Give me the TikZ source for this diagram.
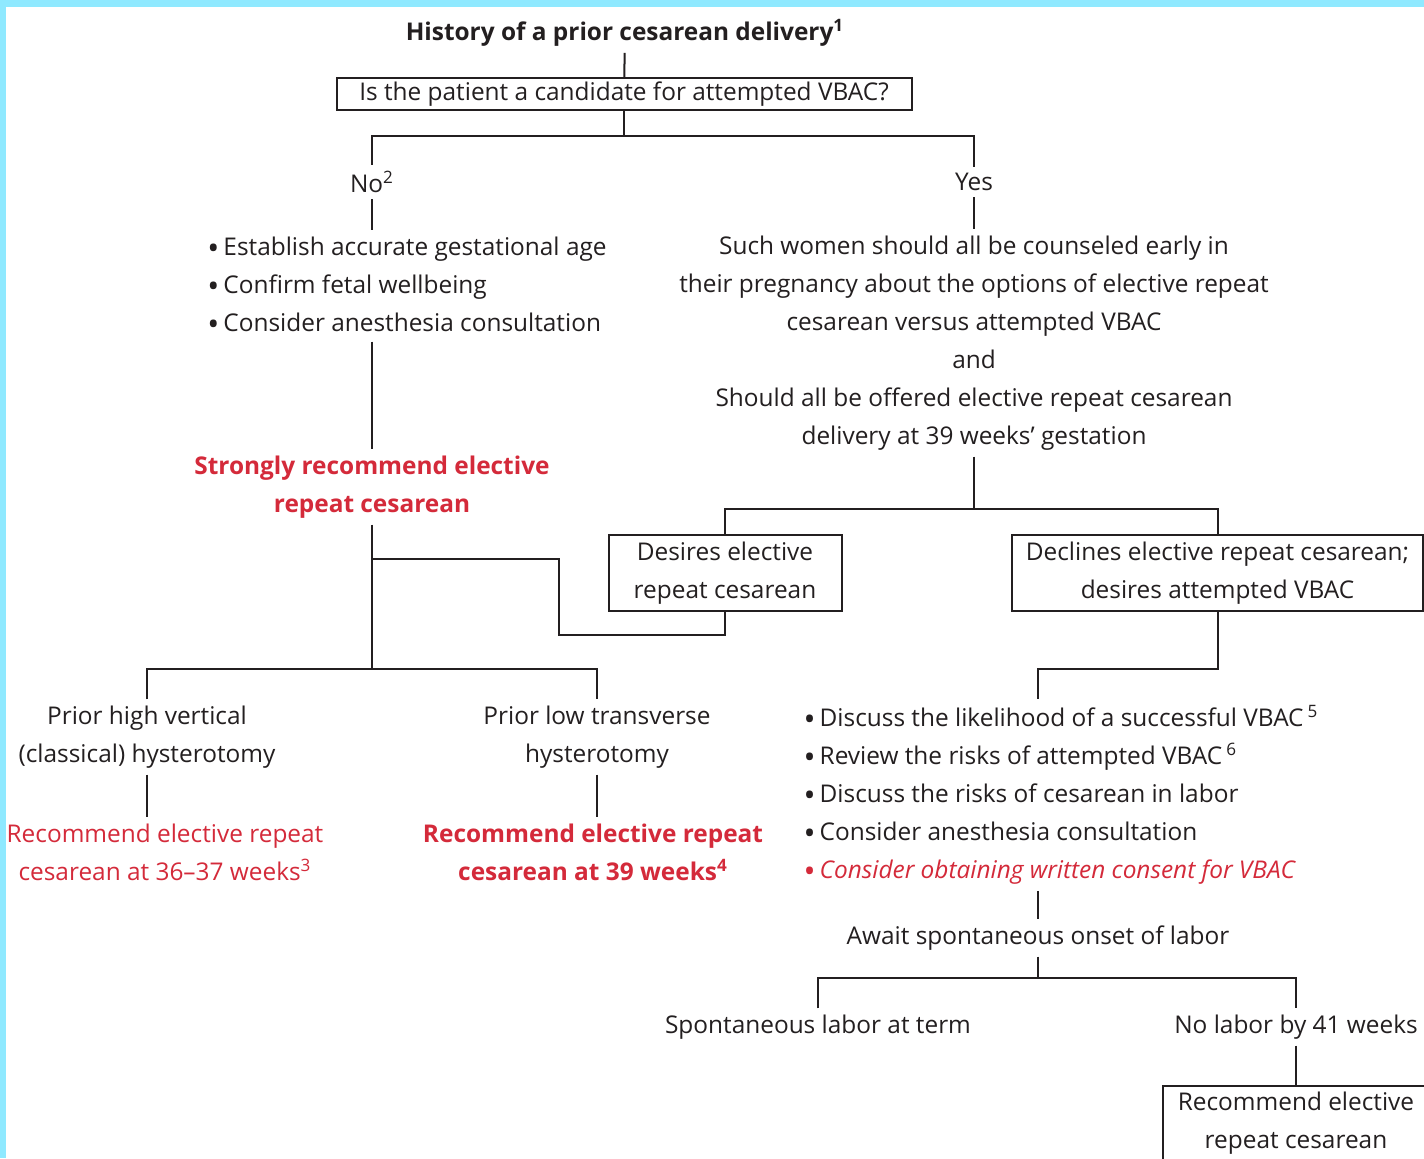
\documentclass[tikz,border=0pt]{standalone}
\usepackage{fontspec}
\setmainfont{Open Sans}
\usepackage{xcolor}
\usepackage{tikz}
\usetikzlibrary{positioning}

\definecolor{ink}{RGB}{35,31,32}
\definecolor{alertred}{RGB}{212,42,58}
\definecolor{band}{RGB}{143,233,255}
\newcommand\dotb{\raisebox{-0.3ex}{\fontsize{16}{19}\selectfont•}\,}

\begin{document}
\begin{tikzpicture}[x=0.5pt, y=-0.5pt,
      every node/.style = {font=\fontsize{12.2}{19}\selectfont, text=ink, inner sep=3pt},
      box/.style = {draw=ink, line width=1pt, inner sep=0pt},
      wire/.style = {draw=ink, line width=1pt},
      alert/.style = {text=alertred},
      strong/.style = {text=alertred, font=\fontsize{12.2}{19}\selectfont\bfseries}
    ]
      \fill[band] (0,0) rectangle (1424,1158);
      \fill[white] (6,7) rectangle (1424,1158);
      \useasboundingbox (0,0) rectangle (1424,1158);

      \node[font=\fontsize{12.2}{19}\selectfont\bfseries] (title) at (625,33)
        {History of a prior cesarean delivery\textsuperscript{1}};
      \node[box, minimum width=287.5pt, minimum height=16pt] (q) at (624,94)
        {Is the patient a candidate for attempted VBAC?};
      \node (no) at (372,182) {No\textsuperscript{2}};
      \node (yes) at (974,182) {Yes};
      \node[align=left] (nolist) at (407,286)
        {\dotb Establish accurate gestational age\\
         \dotb Confirm fetal wellbeing\\
         \dotb Consider anesthesia consultation};
      \node[align=center] (yeslist) at (974,343)
        {Such women should all be counseled early in\\
         their pregnancy about\ the options of elective repeat\\
         cesarean versus attempted VBAC\\
         and\\
         Should all be offered elective repeat cesarean\\
         delivery at 39 weeks’ gestation};
      \node[strong, align=center] (strongrec) at (372,487)
        {Strongly recommend elective\\repeat cesarean};
      \node[box, align=center, minimum width=116.5pt, minimum height=38pt] (desire) at (725,573)
        {Desires elective\\repeat cesarean};
      \node[box, align=center, minimum width=205.5pt, minimum height=38pt] (decline) at (1217.5,573)
        {Declines elective repeat cesarean;\\desires attempted VBAC};
      \node[align=center] (high) at (147,737)
        {Prior high vertical\\(classical) hysterotomy};
      \node[align=center] (low) at (597,737)
        {Prior low transverse\\hysterotomy};
      \node[alert, align=center] (rec36) at (165,852)
        {Recommend elective repeat\\cesarean at 36–37 weeks\textsuperscript{3}};
      \node[strong, align=center] (rec39) at (593,852)
        {Recommend elective repeat\\cesarean at 39 weeks\textsuperscript{4}};
      \node[align=left] (vbaclist) at (1061,795)
        {\dotb Discuss the likelihood of a successful VBAC\,\textsuperscript{5}\\
         \dotb Review the risks of attempted VBAC\,\textsuperscript{6}\\
         \dotb Discuss the risks of cesarean in labor\\
         \dotb Consider anesthesia consultation\\
         {\color{alertred}\dotb\itshape Consider obtaining written consent for VBAC}};
      \node (await) at (1038,938) {Await spontaneous onset of labor};
      \node (spont) at (818,1027) {Spontaneous labor at term};
      \node (nolabor) at (1296,1027) {No labor by 41 weeks};
      \node[box, align=center, minimum width=133pt, minimum height=37pt] (final) at (1296,1123)
        {Recommend elective\\repeat cesarean};

      \coordinate (qj) at (624,136);
      \coordinate (lj) at (372,669);
      \coordinate (bj) at (372,559);
      \coordinate (yj) at (974,509);
      \coordinate (dj) at (1038,669);
      \coordinate (aj) at (1038,978);

      \draw[wire] (title) -- (q);
      \draw[wire] (q) -- (qj);
      \draw[wire] (no) |- (qj) -| (yes);
      \draw[wire] (no) -- (no |- nolist.north);
      \draw[wire] (yes) -- (yeslist);
      \draw[wire] (nolist.south -| strongrec) -- (strongrec);
      \draw[wire] (strongrec) -- (lj);
      \draw[wire] (high) |- (lj) -| (low);
      \draw[wire] (bj) -| (559,635) -| (desire);
      \draw[wire] (yeslist) -- (yj);
      \draw[wire] (desire) |- (yj) -| (decline);
      \draw[wire] (decline) |- (dj) -- (dj |- vbaclist.north);
      \draw[wire] (high) -- (rec36.north -| high);
      \draw[wire] (low) -- (rec39.north -| low);
      \draw[wire] (vbaclist.south -| await) -- (await);
      \draw[wire] (await) -- (aj);
      \draw[wire] (spont) |- (aj) -| (nolabor);
      \draw[wire] (nolabor) -- (final);
    \end{tikzpicture}
\end{document}
